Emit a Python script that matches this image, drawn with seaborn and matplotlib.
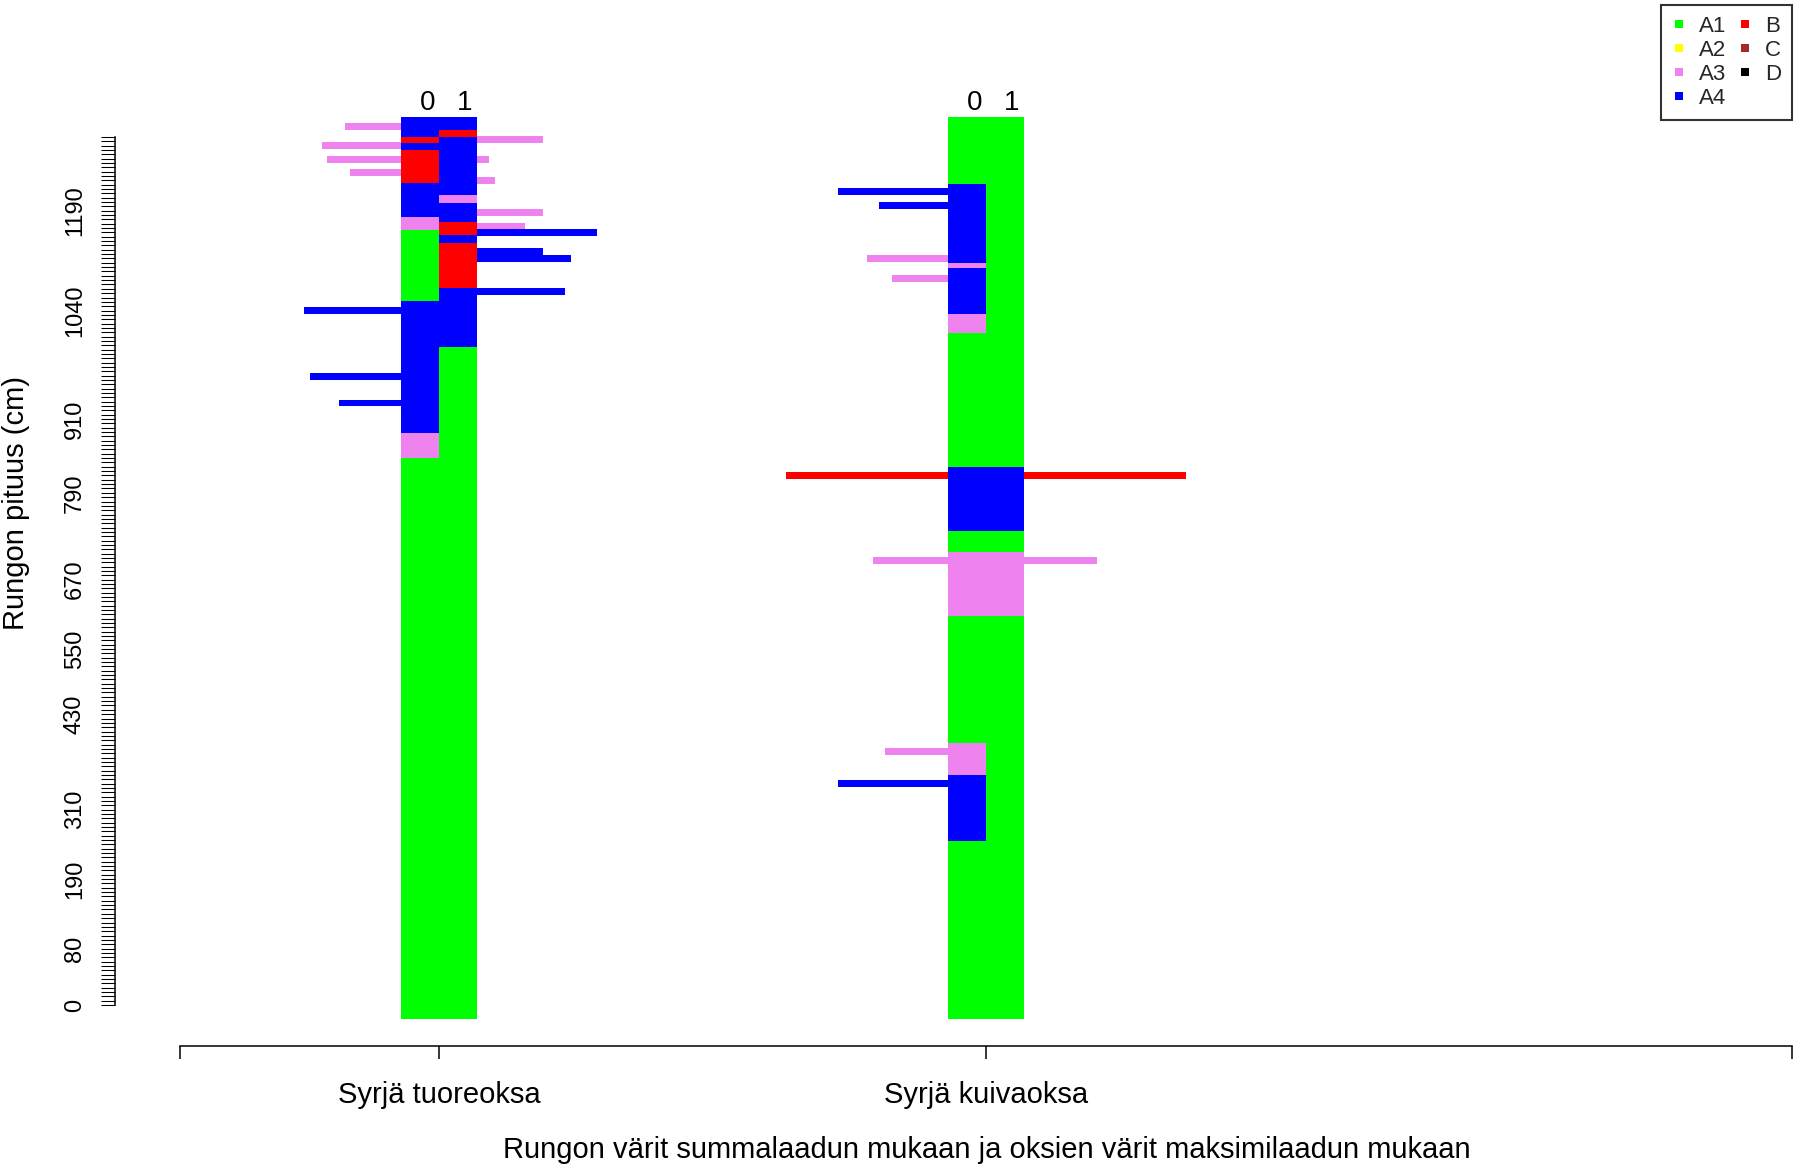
import matplotlib
matplotlib.use('Agg')
import matplotlib.pyplot as plt
from matplotlib.lines import Line2D
import seaborn as sns

# grades and R-style colours
grade_names = ['A1', 'A2', 'A3', 'A4', 'B', 'C', 'D']
grade_colors = ['#00ff00', '#ffff00', '#ee82ee', '#0000ff', '#ff0000', '#a52a2a', '#000000']
pal = dict(zip(grade_names, grade_colors))

stem_labels = ['Syrjä tuoreoksa', 'Syrjä kuivaoksa']
stem_pos = [1, 2]
stem_top = 204.5   # measurement index of stem top

# y axis = measurement index, labelled with the height in cm
ruler_idx = list(range(0, 201))
ytick_idx = [0, 13, 29, 45, 67, 82, 98, 118, 135, 160, 183]
ytick_cm = [0, 80, 190, 310, 430, 550, 670, 790, 910, 1040, 1190]

# stem 1 (tuoreoksa): lower edge of each segment + summed grade
s1_side0_start = [-3.2, 126.0, 131.7, 162.3, 178.6, 181.6, 189.3, 197.0, 198.5, 199.9]
s1_side0_grade = ['A1', 'A3', 'A4', 'A1', 'A3', 'A4', 'B', 'A4', 'B', 'A4']
s1_side1_start = [-3.2, 151.7, 165.1, 175.5, 177.4, 180.3, 184.7, 186.6, 199.9, 201.6]
s1_side1_grade = ['A1', 'A4', 'B', 'A4', 'B', 'A4', 'A3', 'A4', 'B', 'A4']

# stem 2 (kuivaoksa)
s2_side0_start = [-3.2, 37.8, 53.0, 60.3, 89.6, 104.4, 109.1, 124.0, 154.8, 159.1, 169.7, 170.9, 189.2]
s2_side0_grade = ['A1', 'A4', 'A3', 'A1', 'A3', 'A1', 'A4', 'A1', 'A3', 'A4', 'A3', 'A4', 'A1']
s2_side1_start = [-3.2, 89.6, 104.4, 109.1, 124.0]
s2_side1_grade = ['A1', 'A3', 'A1', 'A4', 'A1']

# branches: height (index), length, max grade
s1_left_h = [202.4, 198.0, 194.9, 191.9, 159.9, 144.9, 138.7]
s1_left_len = [0.102, 0.144, 0.134, 0.092, 0.176, 0.165, 0.113]
s1_left_grade = ['A3', 'A3', 'A3', 'A3', 'A4', 'A4', 'A4']
s1_right_h = [199.4, 194.9, 190.0, 182.5, 179.4, 178.0, 173.7, 171.9, 164.4]
s1_right_len = [0.120, 0.021, 0.032, 0.120, 0.088, 0.218, 0.120, 0.172, 0.161]
s1_right_grade = ['A3', 'A3', 'A3', 'A3', 'A3', 'A4', 'A4', 'A4', 'A4']

s2_left_h = [187.4, 184.3, 171.9, 167.4, 121.9, 102.5, 58.5, 51.0]
s2_left_len = [0.200, 0.126, 0.147, 0.101, 0.295, 0.137, 0.115, 0.200]
s2_left_grade = ['A4', 'A4', 'A3', 'A3', 'B', 'A3', 'A3', 'A4']
s2_right_h = [121.9, 102.5]
s2_right_len = [0.295, 0.133]
s2_right_grade = ['B', 'A3']

sns.set_theme(style="white")
plt.rcParams['font.family'] = ['Liberation Sans', 'DejaVu Sans']

fig = plt.figure(figsize=(18, 11.67), dpi=100)
ax = fig.add_axes([115/1800, 0.10368, (1792-115)/1800, 0.9143-0.10368])
hw = 0.07


def draw_column(x0, starts, grades):
    tops = starts[1:] + [stem_top]
    for b, t, g in zip(starts, tops, grades):
        ax.bar(x0, t - b, width=hw, bottom=b, align='edge', color=pal[g], linewidth=0, zorder=3)


def draw_branches(x_edge, heights, lengths, grades, side):
    for h, l, g in zip(heights, lengths, grades):
        left = x_edge - l if side == 0 else x_edge
        ax.barh(h, l, left=left, height=1.6, color=pal[g], linewidth=0, zorder=2)


stem_data = [
    (s1_side0_start, s1_side0_grade, s1_side1_start, s1_side1_grade,
     (s1_left_h, s1_left_len, s1_left_grade), (s1_right_h, s1_right_len, s1_right_grade)),
    (s2_side0_start, s2_side0_grade, s2_side1_start, s2_side1_grade,
     (s2_left_h, s2_left_len, s2_left_grade), (s2_right_h, s2_right_len, s2_right_grade)),
]

for c, (st0, gr0, st1, gr1, lb, rb) in zip(stem_pos, stem_data):
    draw_column(c - hw, st0, gr0)
    draw_column(c, st1, gr1)
    draw_branches(c - hw, *lb, side=0)
    draw_branches(c + hw, *rb, side=1)
    ax.text(c - hw/2 + 0.015, 206.2, '0', ha='center', va='baseline', fontsize=20, color='black')
    ax.text(c + hw/2 + 0.012, 206.2, '1', ha='center', va='baseline', fontsize=20, color='black')

ax.set_xlim(0.4077, 3.4735)
ax.set_ylim(-9.45, 208.5)

sns.despine(ax=ax)
ax.spines['left'].set_bounds(0, 200)
ax.spines['bottom'].set_bounds(0.527, 3.4735)
for s in ['left', 'bottom']:
    ax.spines[s].set_color('black')
    ax.spines[s].set_linewidth(1.1)

ax.set_xticks([0.527] + stem_pos + [3.4735])
ax.set_xticklabels([''] + stem_labels + [''])
ax.tick_params(axis='x', direction='out', length=9.5, width=1.1, color='black',
               labelsize=21, pad=16, bottom=True, labelcolor='black')

ax.set_yticks(ytick_idx)
ax.set_yticklabels([str(v) for v in ytick_cm], rotation=90, va='center')
ax.set_yticks(ruler_idx, minor=True)
ax.tick_params(axis='y', which='both', direction='out', length=10, width=0.75, color='black',
               left=True)
ax.tick_params(axis='y', which='major', labelsize=17, pad=11, labelcolor='black')
ax.grid(False)

fig.text(16/1800, 1-503/1167, 'Rungon pituus (cm)', rotation=90, ha='center', va='center',
         fontsize=21, color='black')
fig.text(987/1800, 1-1150/1167, 'Rungon värit summalaadun mukaan ja oksien värit maksimilaadun mukaan',
         ha='center', va='center', fontsize=21, color='black')

handles = [Line2D([], [], marker='s', linestyle='none', markersize=6, color=col,
                  markeredgewidth=0) for col in grade_colors]
leg = fig.legend(handles, grade_names, loc='upper right', bbox_to_anchor=(1792/1800, 1-5/1167),
                 ncol=2, fontsize=16, frameon=True, fancybox=False, handlelength=0.6,
                 handletextpad=0.6, columnspacing=0.55, borderpad=0.5, labelspacing=0.13,
                 borderaxespad=0)
leg.get_frame().set_edgecolor('black')
leg.get_frame().set_linewidth(1.5)

fig.savefig('out.png', dpi=100, facecolor='white')
